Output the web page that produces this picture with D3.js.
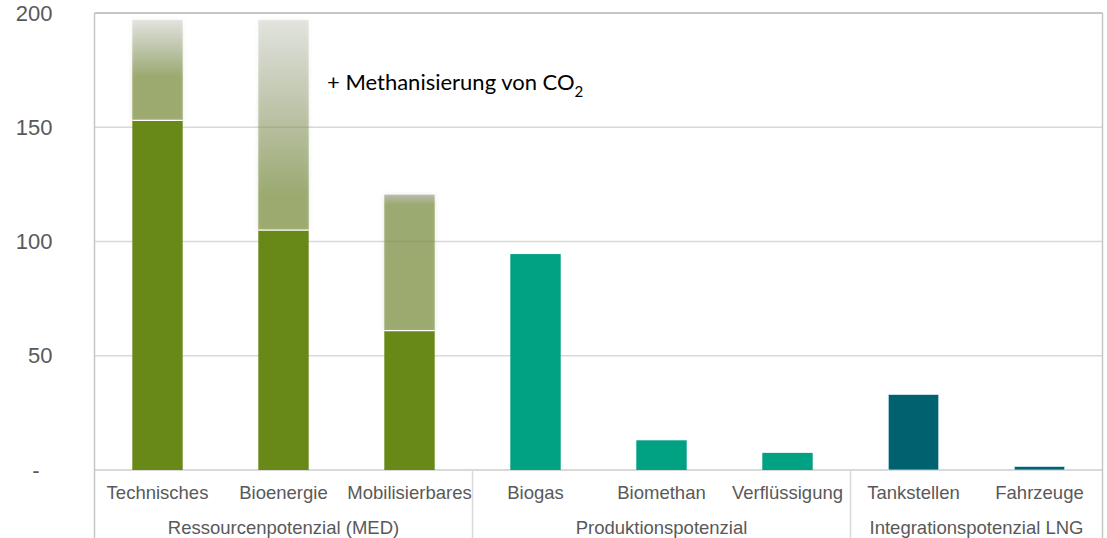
<!DOCTYPE html>
<html>
<head>
<meta charset="utf-8">
<script type="text/javascript" src="https://cdn.jsdelivr.net/npm/d3@7/dist/d3.min.js"></script>
<style>
  body { margin: 0; background: #fff; }
  svg text { font-family: "Liberation Sans", Arial, sans-serif; }
</style>
</head>
<body>
<div id="viz"></div>
<script type="text/javascript">
// data
var categories = ["Technisches", "Bioenergie", "Mobilisierbares", "Biogas", "Biomethan", "Verflüssigung", "Tankstellen", "Fahrzeuge"];
var groups = ["Ressourcenpotenzial (MED)", "Produktionspotenzial", "Integrationspotenzial LNG"];
var groupOf = [0, 0, 0, 1, 1, 1, 2, 2];
var values = [153, 105, 61, 94.5, 13, 7.5, 33, 1.5];
// "+ Methanisierung von CO2" part, stacked on top (total height)
var withCO2 = [197, 197, 120.5, null, null, null, null, null];
var fadeFrom = [172, 120, 116, null, null, null, null, null];
var yTicks = [0, 50, 100, 150, 200];
var yTickLabels = ["-", "50", "100", "150", "200"];

var groupColors = ["#688918", "#00a283", "#00626f"];

var W = 1107, H = 538;
var plotLeft = 94.5, plotRight = 1102.5, plotTop = 13, base = 470;

var svg = d3.select("#viz").append("svg")
    .attr("width", W)
    .attr("height", H);

var x = d3.scaleBand().domain(categories).range([plotLeft, plotRight])
    .paddingInner(0.6).paddingOuter(0.3);
var y = d3.scaleLinear().domain([0, 200]).range([base, plotTop]);

var defs = svg.append("defs");
var f = defs.append("filter").attr("id", "glow")
    .attr("x", "-30%").attr("y", "-10%").attr("width", "160%").attr("height", "120%");
f.append("feDropShadow").attr("dx", 0).attr("dy", 0).attr("stdDeviation", 2)
    .attr("flood-color", "#777").attr("flood-opacity", 0.3);

categories.forEach(function (c, i) {
    if (withCO2[i] == null) return;
    var g = defs.append("linearGradient").attr("id", "fade" + i)
        .attr("gradientUnits", "userSpaceOnUse")
        .attr("x1", 0).attr("x2", 0)
        .attr("y1", y(fadeFrom[i])).attr("y2", y(withCO2[i]));
    var topOp = withCO2[i] > 150 ? 0.2 : 0.55;
    g.append("stop").attr("offset", 0).attr("stop-color", "rgb(125,145,60)").attr("stop-opacity", 0.7);
    g.append("stop").attr("offset", 1).attr("stop-color", "rgb(140,150,115)").attr("stop-opacity", topOp);
});

// gridlines
svg.append("g").selectAll("line").data([50, 100, 150]).enter().append("line")
    .attr("x1", plotLeft).attr("x2", plotRight)
    .attr("y1", function (d) { return y(d); }).attr("y2", function (d) { return y(d); })
    .style("stroke", "#d9d9d9").style("stroke-width", 1.5);

// frame
svg.append("line").attr("x1", plotLeft).attr("x2", plotRight).attr("y1", plotTop).attr("y2", plotTop)
    .style("stroke", "#c6c6c6").style("stroke-width", 2);
svg.append("line").attr("x1", plotLeft).attr("x2", plotRight).attr("y1", base).attr("y2", base)
    .style("stroke", "#d9d9d9").style("stroke-width", 2);
[plotLeft, plotRight].forEach(function (xx) {
    svg.append("line").attr("x1", xx).attr("x2", xx).attr("y1", plotTop).attr("y2", H)
        .style("stroke", "#c6c6c6").style("stroke-width", 1.5);
});

// methanisation part (light, fading)
svg.append("g").selectAll("rect")
    .data(categories.map(function (c, i) { return { c: c, i: i }; }).filter(function (d) { return withCO2[d.i] != null; }))
    .enter().append("rect")
    .attr("x", function (d) { return x(d.c); })
    .attr("width", x.bandwidth())
    .attr("y", function (d) { return y(withCO2[d.i]); })
    .attr("height", function (d) { return y(values[d.i]) - y(withCO2[d.i]); })
    .attr("fill", function (d) { return "url(#fade" + d.i + ")"; })
    .attr("filter", "url(#glow)");

// main bars
svg.append("g").selectAll("rect").data(categories).enter().append("rect")
    .attr("x", function (d) { return x(d); })
    .attr("width", x.bandwidth())
    .attr("y", function (d, i) { return y(values[i]); })
    .attr("height", function (d, i) { return base - y(values[i]); })
    .style("fill", function (d, i) { return groupColors[groupOf[i]]; })
    .style("stroke", function (d, i) { return groupOf[i] == 2 ? "#cfe6ee" : "none"; })
    .style("stroke-width", 0.8);

// white seam between the two stacked parts
svg.append("g").selectAll("line")
    .data(categories.filter(function (d, i) { return withCO2[i] != null; }))
    .enter().append("line")
    .attr("x1", function (d) { return x(d); })
    .attr("x2", function (d) { return x(d) + x.bandwidth(); })
    .attr("y1", function (d) { return y(values[categories.indexOf(d)]); })
    .attr("y2", function (d) { return y(values[categories.indexOf(d)]); })
    .style("stroke", "#fff").style("stroke-width", 1.2);

// y axis labels
svg.append("g").selectAll("text").data(yTicks).enter().append("text")
    .attr("x", function (d) { return d == 0 ? 36 : 52.5; })
    .attr("y", function (d) { return y(d); })
    .attr("dy", "0.35em")
    .attr("text-anchor", function (d) { return d == 0 ? "middle" : "end"; })
    .style("font-size", "22px")
    .style("fill", "#595959")
    .text(function (d, i) { return yTickLabels[i]; });

// category labels
svg.append("g").selectAll("text").data(categories).enter().append("text")
    .attr("x", function (d) { return x(d) + x.bandwidth() / 2; })
    .attr("y", 492.5)
    .attr("dy", "0.35em")
    .attr("text-anchor", "middle")
    .style("font-size", "18.5px")
    .style("fill", "#595959")
    .text(function (d) { return d; });

// group labels + separators
var step = x.step();
var bounds = [plotLeft, plotLeft + 3 * step, plotLeft + 6 * step, plotRight];
[bounds[1], bounds[2]].forEach(function (xx) {
    svg.append("line").attr("x1", xx).attr("x2", xx).attr("y1", base).attr("y2", H)
        .style("stroke", "#d9d9d9").style("stroke-width", 1.5);
});
svg.append("g").selectAll("text").data(groups).enter().append("text")
    .attr("x", function (d, i) { return (bounds[i] + bounds[i + 1]) / 2; })
    .attr("y", 528)
    .attr("dy", "0.35em")
    .attr("text-anchor", "middle")
    .style("font-size", "18.5px")
    .style("fill", "#595959")
    .text(function (d) { return d; });

// annotation
var ann = svg.append("text")
    .attr("x", 327).attr("y", 90)
    .style("font-family", "Lato, sans-serif")
    .style("font-size", "22px")
    .style("fill", "#000");
ann.append("tspan").text("+ Methanisierung von CO");
ann.append("tspan").attr("dy", 7).style("font-size", "15px").text("2");
</script>
</body>
</html>
